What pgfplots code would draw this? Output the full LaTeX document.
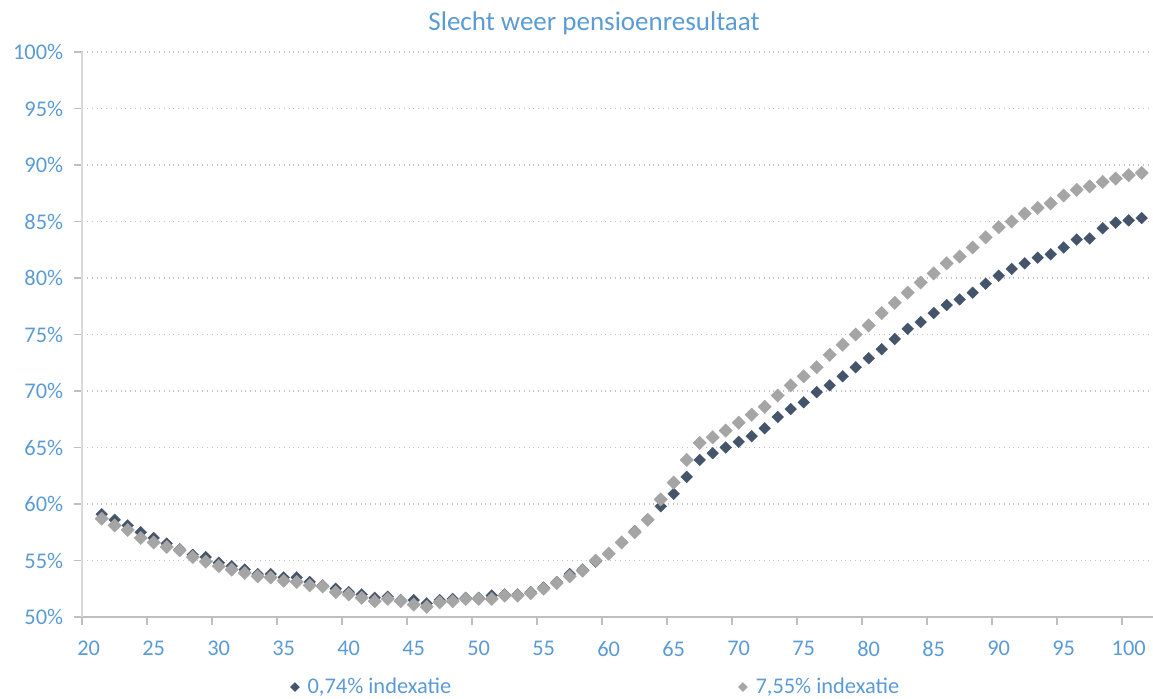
\documentclass[border=0pt]{standalone}
\usepackage{fontspec}
\setmainfont{Carlito}
\usepackage{pgfplots}
\pgfplotsset{compat=1.18}
\definecolor{darkser}{HTML}{44546A}
\definecolor{greyser}{HTML}{A5A5A5}
\definecolor{txt}{HTML}{5B9BD5}
\definecolor{gridc}{HTML}{C4C4C4}
\definecolor{axc}{HTML}{BFBFBF}
\definecolor{yaxc}{HTML}{D9D9D9}

\pgfplotstableread{
x y
21 59.1
22 58.6
23 58.1
24 57.5
25 57.0
26 56.5
27 56.0
28 55.5
29 55.3
30 54.8
31 54.5
32 54.2
33 53.8
34 53.8
35 53.5
36 53.5
37 53.1
38 52.8
39 52.5
40 52.2
41 52.0
42 51.7
43 51.8
44 51.5
45 51.5
46 51.2
47 51.5
48 51.6
49 51.7
50 51.7
51 51.9
52 52.0
53 52.0
54 52.2
55 52.6
56 53.1
57 53.8
58 54.2
59 54.9
60 55.6
61 56.6
62 57.6
63 58.6
64 59.8
65 60.9
66 62.4
67 63.9
68 64.5
69 65.0
70 65.5
71 66.0
72 66.7
73 67.7
74 68.4
75 69.0
76 69.9
77 70.5
78 71.3
79 72.1
80 72.9
81 73.7
82 74.6
83 75.5
84 76.1
85 76.9
86 77.6
87 78.1
88 78.7
89 79.5
90 80.2
91 80.8
92 81.3
93 81.8
94 82.1
95 82.7
96 83.4
97 83.5
98 84.4
99 84.9
100 85.1
101 85.3
102 85.7
}\lowidx

\pgfplotstableread{
x y
21 58.7
22 58.1
23 57.7
24 57.0
25 56.6
26 56.2
27 55.9
28 55.3
29 54.9
30 54.5
31 54.2
32 53.9
33 53.6
34 53.5
35 53.2
36 53.1
37 52.8
38 52.7
39 52.2
40 52.0
41 51.7
42 51.4
43 51.6
44 51.4
45 51.1
46 50.9
47 51.3
48 51.4
49 51.6
50 51.6
51 51.6
52 51.9
53 51.9
54 52.1
55 52.5
56 53.0
57 53.6
58 54.1
59 55.0
60 55.6
61 56.6
62 57.5
63 58.6
64 60.4
65 61.9
66 63.9
67 65.4
68 65.9
69 66.5
70 67.2
71 67.9
72 68.6
73 69.6
74 70.5
75 71.3
76 72.1
77 73.2
78 74.1
79 75.0
80 75.8
81 76.9
82 77.8
83 78.7
84 79.6
85 80.4
86 81.3
87 81.9
88 82.7
89 83.6
90 84.5
91 85.0
92 85.7
93 86.2
94 86.6
95 87.3
96 87.8
97 88.1
98 88.5
99 88.8
100 89.1
101 89.3
102 89.6
}\highidx

\begin{document}
\begin{tikzpicture}
\useasboundingbox (-41.1pt,-41pt) rectangle (535.4pt,308.5pt);
\begin{axis}[
  at={(0,0)}, anchor=south west, scale only axis,
  width=535.4pt, height=282.5pt,
  xmin=19.5, xmax=101.87, ymin=50, ymax=100,
  axis x line*=bottom, axis y line*=left,
  x axis line style={draw=axc, line width=0.7pt},
  y axis line style={draw=yaxc, line width=0.7pt},
  clip marker paths=true,
  xtick={20,25,...,100},
  xtick style={draw=none},
  extra x ticks={19.5,24.5,...,99.5},
  extra x tick labels={},
  extra x tick style={xtick style={draw=axc, line width=0.7pt}, tick align=outside, major tick length=4pt, grid=none},
  ytick={50,55,...,100},
  yticklabels={50\%,55\%,60\%,65\%,70\%,75\%,80\%,85\%,90\%,95\%,100\%},
  ytick style={draw=axc, line width=0.7pt},
  tick align=outside, major tick length=4pt,
  ymajorgrids, grid style={draw=gridc, dotted, line width=0.6pt},
  /pgf/number format/assume math mode=true,
  ticklabel style={font=\fontsize{11.2}{13}\selectfont, text=txt},
  xticklabel style={yshift=-4.5pt},
  yticklabel style={xshift=-2pt},
  title={Slecht weer pensioenresultaat},
  title style={at={(0.478,1.029)}, anchor=center, font=\fontsize{13.5}{16}\selectfont, text=txt},
  legend style={at={(0.194,-0.124)}, anchor=west, draw=none, fill=none,
    font=\fontsize{11.2}{13}\selectfont, text=txt, inner sep=0pt,
    /tikz/every odd column/.append style={column sep=2pt},
    /tikz/every even column/.append style={column sep=141.5pt}},
  legend columns=2, legend cell align=left,
]
\addplot[only marks, mark=square*, color=darkser, mark size=2.1pt,
  mark options={rotate=45, fill=darkser, draw=darkser, line width=0.1pt},
  legend image code/.code={\fill[darkser, rotate=45] (-1.5pt,-1.5pt) rectangle (1.5pt,1.5pt);}]
  table[x=x, y=y] {\lowidx};
\addlegendentry{0,74\% indexatie}
\addplot[only marks, mark=square*, color=greyser, mark size=2.4pt,
  mark options={rotate=45, fill=greyser, draw=greyser, line width=0.1pt},
  legend image code/.code={\fill[greyser, rotate=45] (-1.5pt,-1.5pt) rectangle (1.5pt,1.5pt);}]
  table[x=x, y=y] {\highidx};
\addlegendentry{7,55\% indexatie}
\end{axis}
\end{tikzpicture}
\end{document}
